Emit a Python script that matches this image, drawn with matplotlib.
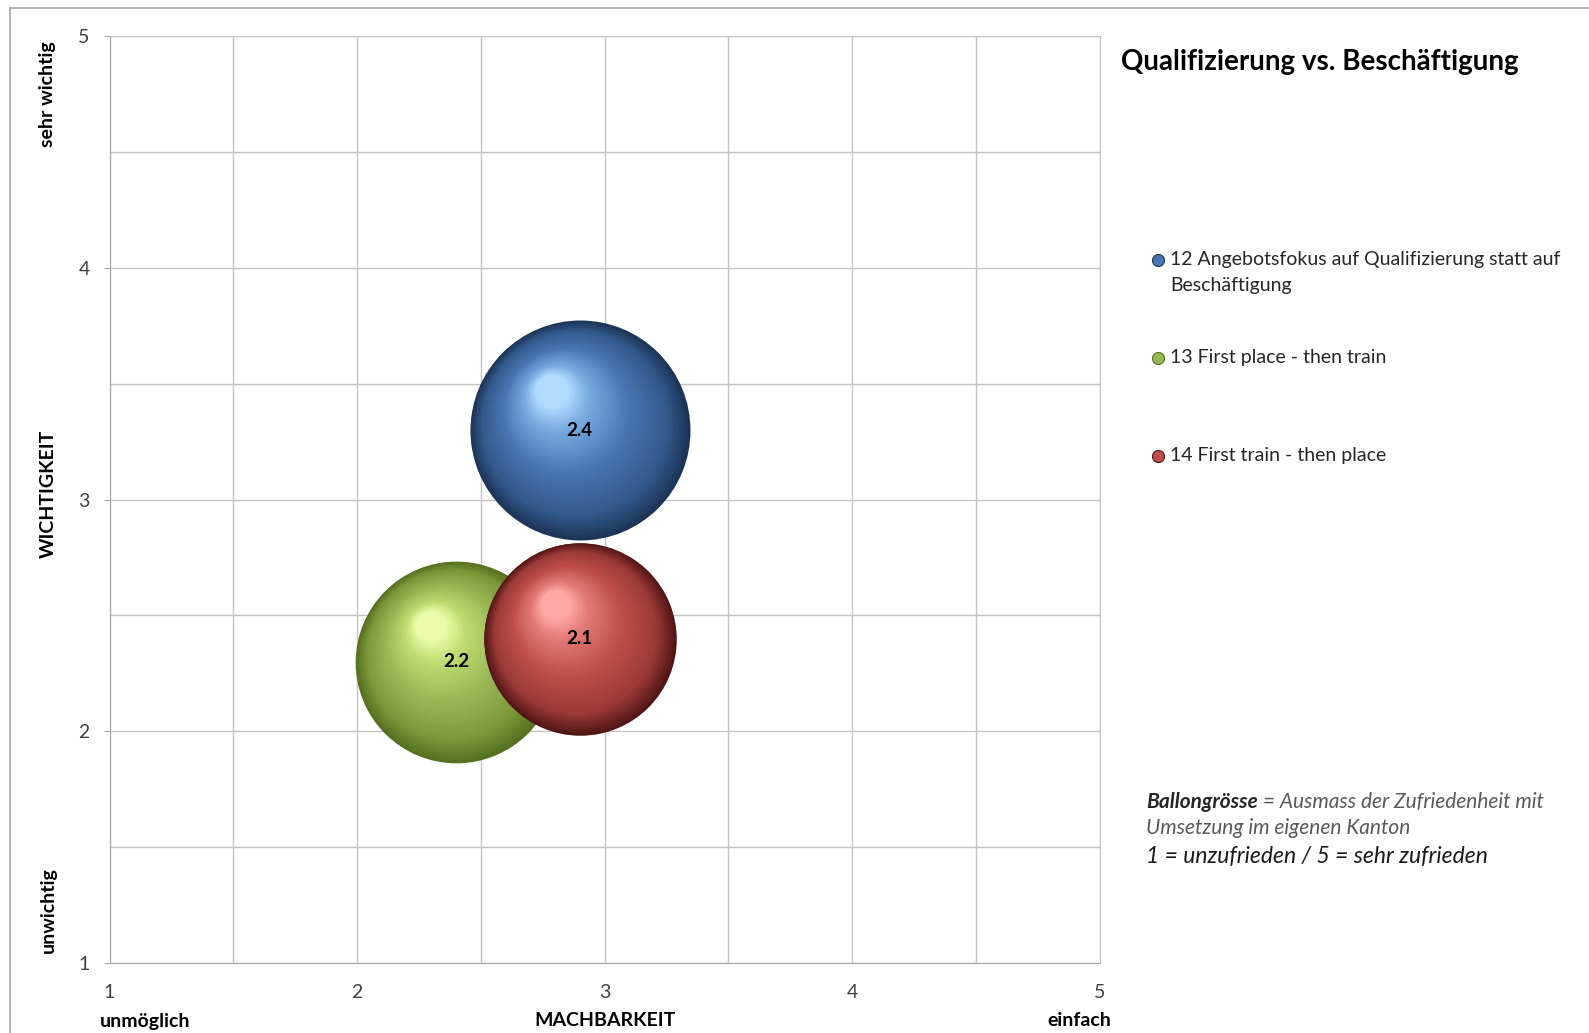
import numpy as np
import matplotlib
matplotlib.use("Agg")
import matplotlib.pyplot as plt
from matplotlib import transforms
from matplotlib.colors import LinearSegmentedColormap
from matplotlib.lines import Line2D

plt.rcParams['font.family'] = ['Lato', 'DejaVu Sans']

# data
labels = ['12 Angebotsfokus auf Qualifizierung statt auf\nBeschäftigung',
          '13 First place - then train',
          '14 First train - then place']
machbarkeit = [2.9, 2.4, 2.9]
wichtigkeit = [3.3, 2.3, 2.4]
zufriedenheit = [2.4, 2.2, 2.1]
ticks = [1, 2, 3, 4, 5]

# edge -> highlight shades per bubble
shades = [
    ['#1c3456', '#325a8c', '#4876b2', '#78a9e0', '#b0dcff'],
    ['#56701f', '#7b9838', '#98b855', '#c0dc72', '#eafca6'],
    ['#521515', '#9a3a37', '#c04d4a', '#e27a77', '#ffa8a5'],
]
stops = [0, 0.18, 0.5, 0.82, 1]

W, H = 1589, 1033
fx = lambda px: px / W
fy = lambda py: 1 - py / H

fig = plt.figure(figsize=(W / 100, H / 100), dpi=100)
ax = fig.add_axes([fx(109.5), fy(962.7), fx(1099.5) - fx(109.5), fy(36.5) - fy(962.7)])

ax.set_xlim(1, 5)
ax.set_ylim(1, 5)
ax.set_xticks(ticks)
ax.set_yticks(ticks)
ax.set_xticks(np.arange(1.5, 5, 1), minor=True)
ax.set_yticks(np.arange(1.5, 5, 1), minor=True)
ax.grid(True, which='both', color='#c4c4c4', lw=1.0)
ax.set_axisbelow(True)
for s in ax.spines.values():
    s.set_color('#c4c4c4')
ax.spines['left'].set_color('#a6a6a6')
ax.spines['bottom'].set_color('#a6a6a6')
ax.tick_params(which='minor', length=0)
ax.tick_params(axis='y', which='major', length=4.3, color='#a6a6a6', pad=10,
               labelsize=14, labelcolor='#404040')
ax.tick_params(axis='x', which='major', length=0, pad=15,
               labelsize=14, labelcolor='#404040')

# shaded bubbles, diameter proportional to value
k = 66.0
n = 70
tmax = 0.85
for x, y, v, cols in zip(machbarkeit, wichtigkeit, zufriedenheit, shades):
    cmap = LinearSegmentedColormap.from_list('s', list(zip(stops, cols)))
    d = v * k
    R = d / 2
    for t in np.linspace(0, tmax, n):
        tr = transforms.offset_copy(ax.transData, fig=fig, x=-0.3 * R * t,
                                    y=0.42 * R * t, units='points')
        ax.scatter([x], [y], s=(d * (1 - t)) ** 2, color=cmap(t / tmax), lw=0,
                   transform=tr, zorder=3)
for x, y, v in zip(machbarkeit, wichtigkeit, zufriedenheit):
    ax.text(x, y, f'{v:.1f}', ha='center', va='center', fontsize=13.5,
            fontweight='bold', color='black', zorder=6)

# axis labels
fig.text(fx(48), fy(94), 'sehr wichtig', rotation=90, ha='center', va='center',
         fontsize=14, fontweight='bold')
fig.text(fx(48), fy(494), 'WICHTIGKEIT', rotation=90, ha='center', va='center',
         fontsize=14, fontweight='bold')
fig.text(fx(48), fy(910), 'unwichtig', rotation=90, ha='center', va='center',
         fontsize=14, fontweight='bold')
fig.text(fx(145), fy(1021), 'unmöglich', ha='center', va='center',
         fontsize=14, fontweight='bold')
fig.text(fx(605), fy(1021), 'MACHBARKEIT', ha='center', va='center',
         fontsize=14, fontweight='bold')
fig.text(fx(1079), fy(1021), 'einfach', ha='center', va='center',
         fontsize=14, fontweight='bold')

# title
fig.text(fx(1121), fy(70), 'Qualifizierung vs. Beschäftigung', ha='left',
         va='baseline', fontsize=20, fontweight='bold')

# legend
leg_base = [265, 363, 461]
line_gap = 26
for lab, b, cols in zip(labels, leg_base, shades):
    ax.scatter([fx(1158)], [fy(b - 5)], s=75, color=cols[2], edgecolors=cols[0],
               lw=0.8, transform=fig.transFigure, clip_on=False, zorder=5)
    for i, line in enumerate(lab.split('\n')):
        fig.text(fx(1170), fy(b + i * line_gap), line, ha='left', va='baseline',
                 fontsize=14, color='#262626')

# note
t1 = fig.text(fx(1146), fy(808), 'Ballongrösse', ha='left', va='baseline',
              fontsize=15, fontweight='bold', style='italic', color='#262626')
ax.annotate(' = Ausmass der Zufriedenheit mit', xy=(1, 0), xycoords=t1,
            ha='left', va='bottom', fontsize=15, style='italic', color='#595959')
fig.text(fx(1146), fy(834), 'Umsetzung im eigenen Kanton', ha='left', va='baseline',
         fontsize=15, style='italic', color='#595959')
fig.text(fx(1146), fy(863), '1 = unzufrieden / 5 = sehr zufrieden', ha='left',
         va='baseline', fontsize=16.5, style='italic', color='#1a1a1a')

# outer frame
fig.add_artist(Line2D([fx(10), 1], [fy(8), fy(8)], color='#a6a6a6', lw=1.2))
fig.add_artist(Line2D([fx(10), fx(10)], [fy(8), 0], color='#a6a6a6', lw=1.2))

fig.savefig('out.png', dpi=100)
